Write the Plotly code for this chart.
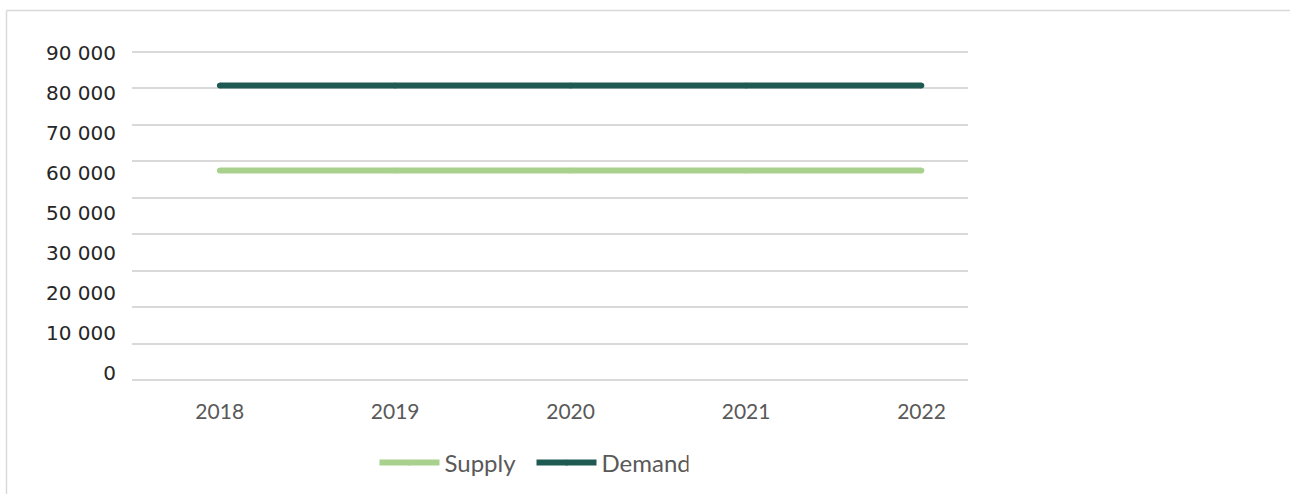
import plotly.graph_objects as go

# Annual supply vs demand
years = [2018, 2019, 2020, 2021, 2022]
supply = [57500, 57500, 57500, 57500, 57500]
demand = [80800, 80800, 80800, 80800, 80800]

# Left-hand labels as printed beside the value scale
y_labels = ["90 000", "80 000", "70 000", "60 000", "50 000",
            "30 000", "20 000", "10 000", "0"]

SUPPLY_COLOR = "#a9d18e"
DEMAND_COLOR = "#1e5a52"
GRID_COLOR = "#d9d9d9"

W, H = 1290, 494
PAD = 3  # keeps the outer gridlines off the clipped plot edges
ML, MR, MT, MB = 132, 322, 52 - PAD, 114 - PAD
PW, PH = W - ML - MR, H - MT - MB

# value scale: 0 sits at y=380px, 90 000 at y=52px
UNIT_PER_PX = 90000 / 328
Y_LO, Y_HI = -PAD * UNIT_PER_PX, 90000 + PAD * UNIT_PER_PX

fig = go.Figure()
for name, vals, color in (("Supply", supply, SUPPLY_COLOR),
                          ("Demand", demand, DEMAND_COLOR)):
    # markers just inside the line's width round off its ends
    fig.add_trace(go.Scatter(
        x=years, y=vals, name=name, mode="lines+markers",
        line=dict(color=color, width=6),
        marker=dict(color=color, size=5.6, line=dict(width=0)),
    ))
# empty trace that anchors the label axis
fig.add_trace(go.Scatter(x=[], y=[], yaxis="y2", showlegend=False))


def px_x(px):
    return (px - ML) / PW


def px_y(py):
    return (H - MB - py) / PH


# thin frame around the chart area
fig.add_shape(type="line", xref="paper", yref="paper",
              x0=px_x(6.5), x1=px_x(1300), y0=px_y(10.5), y1=px_y(10.5),
              line=dict(color=GRID_COLOR, width=1.5))
fig.add_shape(type="line", xref="paper", yref="paper",
              x0=px_x(6.5), x1=px_x(6.5), y0=px_y(10.5), y1=px_y(500),
              line=dict(color=GRID_COLOR, width=1.5))

n = len(y_labels)
# label rows are 40px apart, the top one at y=53.3px
lab_lo = -(H - MB - 373.3) / 40
lab_hi = (n - 1) + (53.3 - MT) / 40

fig.update_layout(
    width=W, height=H,
    margin=dict(l=ML, r=MR, t=MT, b=MB, autoexpand=False),
    paper_bgcolor="white", plot_bgcolor="white",
    showlegend=True,
    legend=dict(
        orientation="h", xref="container", yref="container",
        x=531.5 / W, xanchor="center",
        y=1 - 463 / H, yanchor="middle",
        font=dict(family="Lato", size=24, color="#595959"),
        itemwidth=60, entrywidth=82, traceorder="normal",
    ),
    xaxis=dict(
        range=[2017.5, 2022.265], tickvals=years, automargin=False,
        showgrid=False, zeroline=False, showline=False,
        ticks="outside", ticklen=10, tickcolor="rgba(0,0,0,0)",
        tickfont=dict(family="Lato", size=21, color="#595959"),
    ),
    yaxis=dict(
        range=[Y_LO, Y_HI], tickvals=list(range(0, 90001, 10000)),
        automargin=False,
        showgrid=True, gridcolor=GRID_COLOR, gridwidth=1.5,
        zeroline=False, showline=False, showticklabels=False,
    ),
    yaxis2=dict(
        overlaying="y", side="left", automargin=False,
        range=[lab_lo, lab_hi],
        tickvals=list(range(n)), ticktext=y_labels[::-1],
        showgrid=False, zeroline=False, showline=False,
        ticks="outside", ticklen=11, tickcolor="rgba(0,0,0,0)",
        tickfont=dict(family="DejaVu Sans", size=20, color="#262626"),
    ),
)

fig.write_html("out.html")
